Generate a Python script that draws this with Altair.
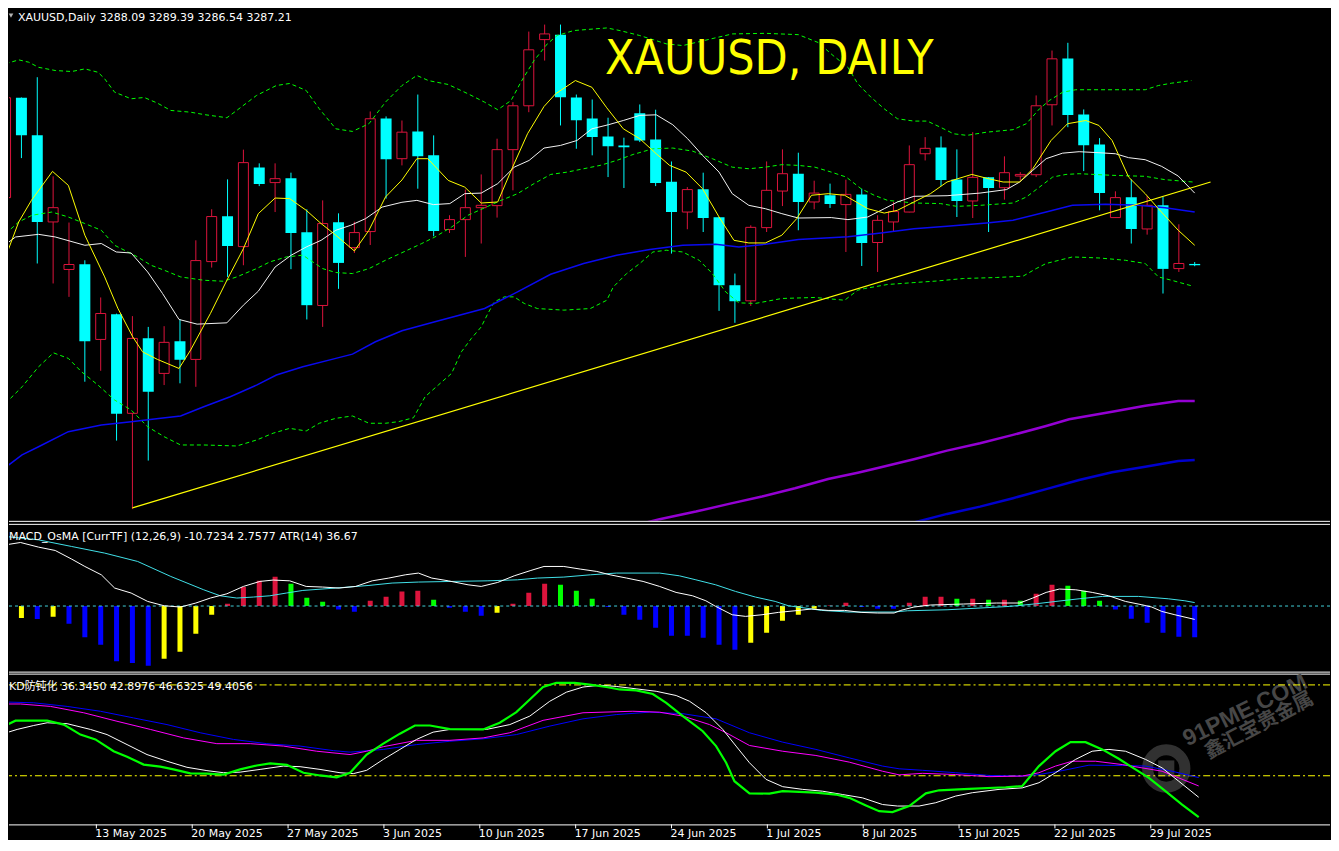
import altair as alt
import pandas as pd

# ---------------- data ----------------
TICK_IDX = [0, 6, 12, 18, 24, 30, 36, 42, 48, 54, 60, 66, 72]
TICK_LABELS = ["6 May 2025", "13 May 2025", "20 May 2025", "27 May 2025", "3 Jun 2025",
               "10 Jun 2025", "17 Jun 2025", "24 Jun 2025", "1 Jul 2025", "8 Jul 2025",
               "15 Jul 2025", "22 Jul 2025", "29 Jul 2025"]

OPEN = [3333.6, 3402.1, 3376.3, 3316.9, 3284.3, 3287.9, 3236.3, 3253.6, 3185.6, 3237.2,
        3213.0, 3235.1, 3222.6, 3289.7, 3320.8, 3300.0, 3354.3, 3343.9, 3346.8, 3309.8,
        3259.6, 3316.7, 3299.3, 3310.3, 3387.9, 3360.3, 3379.0, 3362.6, 3311.7, 3318.5,
        3326.7, 3328.1, 3366.5, 3396.6, 3442.0, 3445.4, 3402.3, 3387.9, 3375.6, 3369.4,
        3391.5, 3373.5, 3344.5, 3323.7, 3339.3, 3320.1, 3273.5, 3262.8, 3313.0, 3338.1,
        3350.0, 3330.6, 3335.2, 3328.8, 3335.8, 3302.8, 3316.9, 3323.7, 3363.7, 3368.0,
        3346.1, 3331.3, 3347.5, 3340.4, 3348.4, 3349.3, 3397.3, 3429.0, 3390.6, 3370.1,
        3319.9, 3333.8, 3312.1, 3328.3, 3284.9, 3288.09]
HIGH = [3404.3, 3402.3, 3416.2, 3348.2, 3316.5, 3290.6, 3265.1, 3254.0, 3252.3, 3244.9,
        3245.4, 3250.0, 3304.3, 3325.6, 3346.1, 3366.5, 3357.1, 3357.1, 3350.7, 3325.6,
        3331.7, 3322.8, 3317.1, 3392.7, 3389.3, 3386.5, 3404.3, 3376.3, 3321.5, 3339.1,
        3349.5, 3374.0, 3399.1, 3447.5, 3452.3, 3452.3, 3404.3, 3400.9, 3388.4, 3374.7,
        3397.5, 3393.9, 3358.4, 3340.8, 3350.7, 3320.3, 3281.5, 3314.6, 3358.4, 3366.7,
        3364.4, 3345.2, 3343.2, 3345.9, 3339.7, 3321.5, 3330.6, 3369.4, 3375.1, 3375.6,
        3366.7, 3378.5, 3347.7, 3361.9, 3351.1, 3403.7, 3434.5, 3439.8, 3394.1, 3374.4,
        3337.9, 3346.1, 3334.7, 3334.0, 3315.3, 3289.39]
LOW = [3332.4, 3360.7, 3288.4, 3274.7, 3265.5, 3207.3, 3214.8, 3166.9, 3119.9, 3153.2,
       3205.0, 3206.2, 3203.8, 3285.6, 3279.2, 3287.2, 3341.5, 3323.7, 3284.5, 3250.0,
       3244.9, 3271.0, 3295.6, 3301.1, 3332.9, 3355.7, 3339.7, 3307.1, 3309.3, 3292.9,
       3302.1, 3319.9, 3338.6, 3392.2, 3427.6, 3383.1, 3367.1, 3362.6, 3347.7, 3340.2,
       3371.7, 3341.5, 3295.2, 3311.9, 3310.0, 3255.9, 3247.7, 3259.3, 3310.0, 3327.8,
       3311.2, 3325.6, 3326.5, 3296.3, 3286.7, 3282.6, 3310.0, 3323.5, 3359.1, 3341.5,
       3320.3, 3319.6, 3310.0, 3332.2, 3345.4, 3347.7, 3383.1, 3381.9, 3351.8, 3324.9,
       3319.7, 3302.1, 3308.2, 3267.8, 3282.6, 3286.54]
CLOSE = [3402.1, 3376.3, 3316.9, 3326.7, 3287.7, 3235.1, 3254.1, 3185.3, 3237.0, 3200.4,
         3234.3, 3222.3, 3290.4, 3320.6, 3300.4, 3357.6, 3342.9, 3346.6, 3309.3, 3259.8,
         3315.8, 3288.8, 3309.6, 3387.7, 3360.0, 3378.5, 3361.9, 3310.7, 3318.5, 3326.7,
         3328.3, 3366.5, 3396.6, 3435.0, 3445.9, 3402.5, 3386.7, 3375.1, 3368.9, 3368.2,
         3372.8, 3343.6, 3323.7, 3339.1, 3319.6, 3273.5, 3262.5, 3313.2, 3338.6, 3350.0,
         3330.6, 3336.7, 3329.2, 3335.8, 3302.5, 3318.0, 3324.0, 3356.2, 3367.4, 3345.6,
         3331.3, 3347.5, 3340.2, 3350.7, 3349.5, 3396.6, 3428.8, 3390.2, 3369.6, 3336.7,
         3333.6, 3312.1, 3328.3, 3284.7, 3288.4, 3287.21]

# moving averages (bar index, price)
MA_FAST = [(0.0, 3292.9), (0.83, 3316.9), (1.63, 3331.7), (2.96, 3351.6), (3.96, 3342.0), (5.0, 3307.8),
           (6.25, 3279.2), (7.08, 3257.7), (8.02, 3238.1), (8.64, 3227.8), (9.58, 3222.6), (10.94, 3216.4),
           (11.67, 3229.0), (12.92, 3254.1), (13.96, 3276.9), (15.0, 3298.6), (15.94, 3322.6), (17.0, 3333.3),
           (17.92, 3332.9), (18.96, 3324.9), (19.9, 3315.8), (20.83, 3307.8), (22.0, 3297.0), (22.92, 3311.2),
           (23.96, 3334.0), (25.0, 3345.7), (25.94, 3360.3), (26.63, 3360.3), (27.92, 3345.4), (28.96, 3340.8),
           (30.0, 3329.9), (31.04, 3330.6), (31.98, 3354.5), (32.92, 3377.4), (33.96, 3396.1), (34.69, 3404.8),
           (35.94, 3413.9), (36.98, 3409.3), (37.92, 3395.2), (38.96, 3380.8), (40.0, 3374.0), (41.04, 3363.7),
           (41.88, 3355.7), (42.92, 3351.1), (43.96, 3339.7), (45.0, 3320.3), (45.94, 3304.3), (46.88, 3302.5),
           (47.92, 3302.5), (48.96, 3307.8), (49.9, 3319.2), (50.83, 3335.2), (51.88, 3336.3), (52.92, 3335.2),
           (54.38, 3326.0), (55.42, 3323.0), (56.25, 3324.9), (57.29, 3330.6), (58.33, 3336.3), (59.38, 3344.3),
           (60.94, 3349.5), (61.98, 3346.6), (62.92, 3344.3), (63.96, 3344.3), (64.79, 3353.4), (65.94, 3372.8),
           (66.98, 3384.3), (68.13, 3386.5), (68.96, 3383.1), (69.79, 3372.8), (70.83, 3347.7), (71.88, 3336.3),
           (72.71, 3326.0), (73.96, 3311.2), (75.0, 3300.9)]
MA_MID = [(0.0, 3301.4), (0.63, 3306.6), (2.08, 3308.4), (3.13, 3306.6), (5.0, 3300.9), (6.04, 3302.1),
          (6.98, 3296.3), (7.92, 3295.6), (8.96, 3282.6), (9.9, 3267.8), (10.94, 3250.0), (12.08, 3246.8),
          (13.96, 3247.7), (15.0, 3259.8), (15.94, 3269.4), (17.0, 3286.0), (18.02, 3294.1), (18.96, 3299.7),
          (19.9, 3304.3), (20.83, 3311.2), (21.77, 3314.6), (22.71, 3319.2), (23.75, 3327.1), (25.0, 3330.4),
          (25.94, 3331.7), (26.98, 3328.8), (28.02, 3329.5), (28.96, 3336.3), (30.0, 3336.7), (31.04, 3343.2),
          (32.08, 3354.5), (33.02, 3359.1), (33.96, 3367.6), (35.0, 3369.4), (36.04, 3372.8), (36.98, 3380.8),
          (38.02, 3383.6), (38.96, 3386.5), (40.0, 3390.0), (41.04, 3390.4), (42.08, 3383.6), (43.02, 3374.0),
          (43.96, 3362.6), (45.0, 3351.1), (45.83, 3336.3), (46.88, 3328.3), (47.92, 3326.0), (48.96, 3322.6),
          (50.0, 3319.6), (52.08, 3319.9), (53.13, 3318.5), (54.38, 3320.3), (55.42, 3326.0), (56.25, 3330.6),
          (57.29, 3334.5), (59.38, 3334.9), (61.46, 3336.7), (63.13, 3339.1), (63.96, 3344.3), (64.79, 3352.3),
          (65.63, 3360.3), (66.67, 3364.1), (67.71, 3365.1), (68.96, 3364.4), (70.0, 3363.7), (70.83, 3361.0),
          (71.88, 3359.6), (72.92, 3355.0), (73.96, 3348.4), (75.0, 3336.7)]
MA_SLOW = [(0.0, 3148.6), (1.04, 3157.1), (2.08, 3162.7), (3.96, 3173.0), (6.04, 3177.6), (7.92, 3179.9),
           (9.79, 3182.2), (11.04, 3183.8), (12.5, 3190.1), (14.17, 3197.0), (15.83, 3205.0), (17.08, 3211.9),
           (18.75, 3217.5), (20.83, 3223.3), (21.88, 3226.2), (23.33, 3234.7), (25.0, 3242.3), (27.08, 3248.4),
           (30.21, 3257.5), (32.29, 3268.9), (34.38, 3281.0), (36.46, 3288.4), (38.54, 3294.1), (40.63, 3298.0),
           (42.71, 3300.9), (44.79, 3301.6), (46.25, 3299.7), (47.92, 3301.6), (50.0, 3304.8), (53.13, 3306.7),
           (55.21, 3309.3), (57.29, 3312.3), (59.38, 3313.9), (61.88, 3316.2), (63.54, 3318.0), (65.63, 3323.7),
           (67.29, 3328.3), (69.38, 3329.0), (71.46, 3328.3), (73.13, 3326.7), (75.0, 3323.7)]
MA_LONG = [(38.5, 3105.5), (41.25, 3113.0), (43.54, 3118.2), (45.63, 3123.5), (47.71, 3128.5), (49.79, 3134.2),
           (51.88, 3140.6), (53.75, 3144.9), (55.21, 3148.6), (57.29, 3154.1), (59.38, 3160.0), (61.46, 3165.1),
           (63.54, 3170.8), (65.63, 3176.9), (67.08, 3181.5), (69.79, 3186.7), (71.88, 3190.8), (73.96, 3194.0),
           (75.0, 3194.0)]
MA_LONGEST = [(55.5, 3105.7), (57.92, 3112.5), (59.38, 3116.6), (61.46, 3121.6), (63.54, 3127.4), (65.63, 3133.6),
              (67.71, 3139.9), (69.79, 3145.2), (71.88, 3149.0), (73.96, 3152.9), (75.0, 3153.6)]

BAND_UP = [(0.0, 3425.4), (0.83, 3428.1), (1.46, 3426.5), (2.08, 3423.0), (3.13, 3420.8), (4.17, 3420.1),
           (5.0, 3421.9), (5.83, 3419.6), (6.25, 3415.1), (6.88, 3405.9), (7.92, 3401.4), (8.75, 3402.3),
           (9.58, 3398.4), (10.42, 3393.4), (11.67, 3392.2), (12.5, 3390.6), (13.96, 3388.4), (14.58, 3393.4),
           (15.83, 3403.7), (17.08, 3410.5), (17.92, 3411.9), (18.96, 3407.1), (19.79, 3394.5), (20.83, 3380.8),
           (21.88, 3379.0), (22.92, 3384.3), (23.96, 3399.1), (25.0, 3410.5), (25.94, 3417.4), (26.67, 3413.9),
           (27.92, 3411.2), (29.17, 3404.8), (30.21, 3399.1), (31.04, 3393.9), (31.88, 3400.2), (32.5, 3412.8),
           (33.33, 3427.6), (34.17, 3439.1), (34.79, 3444.8), (35.83, 3448.2), (37.92, 3450.0), (38.75, 3448.2),
           (40.0, 3444.8), (41.67, 3439.1), (42.71, 3437.9), (45.83, 3445.9), (47.92, 3446.3), (50.0, 3445.4),
           (51.25, 3440.0), (52.19, 3431.1), (53.13, 3423.0), (53.75, 3411.7), (54.58, 3402.5), (55.42, 3394.5),
           (56.25, 3387.7), (57.29, 3386.1), (58.13, 3386.1), (58.96, 3381.9), (59.79, 3377.4), (60.63, 3376.3),
           (61.88, 3378.5), (63.54, 3380.2), (64.38, 3384.3), (65.21, 3394.5), (65.83, 3400.2), (66.67, 3405.9),
           (67.5, 3407.6), (71.88, 3407.6), (72.71, 3410.5), (73.54, 3412.1), (74.79, 3413.9)]
BAND_MID = [(0.0, 3308.9), (0.83, 3316.9), (1.67, 3321.5), (2.92, 3323.7), (3.96, 3320.3), (5.0, 3315.8),
            (6.04, 3311.2), (6.88, 3300.9), (7.71, 3296.3), (8.33, 3292.9), (9.17, 3287.2), (10.0, 3283.8),
            (11.04, 3279.2), (12.5, 3276.9), (13.75, 3276.2), (14.58, 3279.2), (15.83, 3284.9), (16.67, 3289.5),
            (17.71, 3292.9), (18.75, 3294.1), (20.0, 3284.9), (20.83, 3282.2), (21.88, 3281.5), (22.92, 3284.9),
            (23.96, 3290.6), (25.0, 3295.8), (26.25, 3302.1), (27.08, 3306.6), (28.13, 3313.4), (29.17, 3321.5),
            (30.42, 3327.6), (31.25, 3331.7), (32.29, 3336.3), (33.33, 3343.2), (34.38, 3349.5), (35.42, 3351.1),
            (36.46, 3353.4), (37.5, 3355.7), (38.54, 3359.1), (39.58, 3363.2), (40.83, 3367.1), (42.08, 3367.6),
            (43.33, 3365.5), (44.58, 3360.3), (45.83, 3354.5), (46.88, 3353.4), (47.92, 3354.5), (48.96, 3356.2),
            (50.0, 3355.7), (51.04, 3354.5), (52.08, 3351.1), (53.02, 3347.7), (53.96, 3339.7), (54.79, 3335.2),
            (55.63, 3331.7), (57.29, 3329.9), (58.96, 3329.5), (60.0, 3327.6), (61.46, 3328.3), (63.54, 3329.9),
            (64.38, 3334.0), (65.21, 3340.8), (66.04, 3347.7), (66.88, 3349.5), (67.71, 3350.0), (69.79, 3348.9),
            (71.88, 3348.2), (73.13, 3345.9), (74.9, 3344.3)]
BAND_LOW = [(0.0, 3192.5), (1.04, 3203.8), (2.08, 3217.5), (3.02, 3227.1), (3.96, 3223.3), (4.79, 3214.1),
            (5.83, 3205.0), (6.88, 3194.7), (7.92, 3187.9), (8.96, 3176.4), (10.0, 3169.6), (11.04, 3163.9),
            (12.5, 3163.9), (14.58, 3163.2), (15.83, 3167.3), (16.88, 3172.0), (17.92, 3175.3), (18.96, 3173.5),
            (19.79, 3178.8), (20.83, 3182.2), (21.88, 3183.8), (22.92, 3178.8), (23.96, 3178.8), (24.79, 3179.9),
            (25.73, 3182.6), (26.46, 3197.0), (27.29, 3205.0), (28.13, 3213.0), (28.75, 3227.8), (29.38, 3237.0),
            (30.0, 3244.9), (30.42, 3254.1), (30.83, 3262.1), (31.46, 3265.5), (32.08, 3265.5), (32.71, 3261.0),
            (33.54, 3257.5), (35.21, 3256.4), (36.88, 3257.5), (37.92, 3263.2), (38.33, 3272.3), (39.17, 3281.5),
            (40.0, 3288.4), (40.83, 3296.3), (41.67, 3297.5), (42.71, 3296.3), (43.75, 3290.6), (44.58, 3281.5),
            (45.42, 3268.9), (46.25, 3261.4), (47.29, 3261.0), (48.96, 3264.4), (51.04, 3265.1), (52.92, 3263.2),
            (53.75, 3270.1), (54.17, 3271.2), (55.63, 3274.0), (57.29, 3275.3), (58.75, 3276.4), (60.42, 3278.1),
            (62.5, 3278.8), (64.17, 3279.7), (65.0, 3284.9), (65.63, 3288.4), (67.29, 3292.9), (68.96, 3292.2),
            (70.63, 3290.6), (71.88, 3288.4), (72.71, 3279.2), (73.54, 3276.9), (74.9, 3272.8)]

TRENDLINE = [(8.0, 3120.7), (76.0, 3344.3)]

# MACD_OsMA panel
OSMA = [-19.0, -9.6, -10.4, -8.6, -14.2, -25.1, -31.0, -44.3, -45.6, -47.8,
        -42.2, -36.6, -22.2, -7.0, 1.8, 15.2, 20.2, 23.4, 17.8, 6.6,
        3.4, -2.7, -4.6, 4.2, 7.4, 11.7, 12.2, 5.0, -1.4, -4.6,
        -7.8, -5.4, 1.8, 10.6, 17.8, 17.0, 12.2, 5.8, -0.8, -7.0,
        -11.0, -17.4, -23.8, -23.8, -25.4, -31.0, -35.0, -29.4, -21.4, -11.8,
        -7.0, -2.2, 0.5, 2.6, -0.8, -2.2, -2.2, 2.6, 7.4, 7.4,
        5.8, 5.8, 5.0, 5.0, 4.2, 9.8, 17.0, 16.2, 12.2, 4.2,
        -2.7, -10.2, -13.4, -21.4, -24.6, -25.1]
OSMA_KIND = ["Y", "Y", "B", "Y", "B", "B", "B", "B", "B", "B",
             "Y", "Y", "Y", "Y", "R", "R", "R", "R", "G", "G",
             "G", "B", "B", "R", "R", "R", "R", "G", "B", "B",
             "B", "Y", "R", "R", "R", "G", "G", "G", "B", "B",
             "B", "B", "B", "B", "B", "B", "B", "Y", "Y", "Y",
             "Y", "Y", "R", "R", "B", "B", "B", "R", "R", "R",
             "G", "R", "G", "R", "G", "R", "R", "G", "G", "G",
             "B", "B", "B", "B", "B", "B"]
MACD_LINE = [(0.0, 49.0), (0.94, 50.9), (2.08, 47.2), (3.13, 44.5), (4.17, 37.6), (5.0, 31.7), (6.04, 25.0),
             (6.88, 14.4), (7.92, 10.4), (8.96, 3.7), (10.0, 0.2), (11.04, -0.8), (12.0, 2.4), (12.92, 6.4),
             (13.96, 9.8), (15.0, 15.7), (16.04, 19.7), (16.88, 20.8), (17.92, 20.2), (18.96, 15.7), (20.0, 15.2),
             (21.04, 14.4), (22.08, 15.7), (23.13, 20.2), (24.17, 22.4), (25.21, 25.0), (26.04, 26.4), (26.88, 22.4),
             (27.92, 20.2), (29.17, 17.0), (30.0, 15.7), (31.04, 18.9), (32.08, 24.2), (33.13, 28.5), (33.96, 31.7),
             (35.21, 31.7), (36.25, 29.6), (37.29, 27.7), (38.13, 25.0), (39.17, 22.4), (40.21, 19.7), (41.25, 15.7),
             (42.29, 10.9), (43.33, 8.2), (44.17, 4.2), (44.79, -0.3), (45.83, -7.0), (46.67, -8.3), (47.71, -7.0),
             (48.75, -5.1), (49.79, -3.8), (50.83, -2.4), (51.88, -3.5), (52.92, -3.5), (53.96, -5.1), (55.0, -5.6),
             (56.04, -5.6), (56.46, -3.5), (57.29, -0.8), (58.33, 0.8), (60.42, 1.6), (62.5, 2.4), (63.96, 2.4),
             (64.79, 6.4), (65.63, 10.9), (66.46, 13.6), (67.5, 13.0), (68.54, 10.9), (69.58, 8.2), (70.63, 3.7),
             (71.67, 1.0), (72.29, -0.8), (72.92, -4.3), (73.75, -7.0), (75.0, -10.7234)]
SIGNAL_LINE = [(0.0, 55.7), (2.08, 53.0), (4.17, 47.7), (6.25, 42.4), (8.33, 35.7), (10.42, 23.7), (12.5, 13.0),
               (13.54, 8.2), (14.58, 6.4), (15.63, 7.2), (16.67, 8.2), (17.71, 10.4), (18.75, 12.5), (20.83, 14.4),
               (22.92, 16.5), (24.38, 18.4), (26.04, 19.2), (28.13, 19.7), (30.42, 20.2), (32.29, 21.0),
               (33.54, 22.4), (35.21, 23.2), (36.88, 25.0), (38.54, 26.4), (41.25, 26.4), (42.5, 24.2),
               (43.54, 21.0), (44.79, 17.0), (46.04, 11.7), (47.29, 7.2), (48.54, 3.7), (49.38, 0.2),
               (50.42, -1.6), (51.46, -3.5), (53.13, -4.8), (56.04, -4.8), (56.88, -3.8), (59.38, -3.0),
               (61.46, -1.6), (63.33, -0.3), (65.0, 1.8), (66.25, 3.7), (67.71, 5.8), (69.17, 7.7), (71.46, 7.7),
               (73.33, 5.8), (74.38, 4.2), (75.0, 2.7577)]

# KD panel
KD_GREEN = [(0.0, 65.8), (0.94, 68.2), (2.92, 68.2), (3.96, 66.9), (5.0, 63.6), (5.94, 62.0), (7.08, 58.1),
            (7.92, 56.3), (8.96, 53.7), (10.0, 53.0), (10.83, 52.1), (11.88, 50.8), (12.92, 50.7), (13.96, 50.4),
            (15.0, 52.1), (16.04, 53.4), (16.88, 54.1), (17.92, 53.6), (18.96, 51.0), (20.0, 50.1), (21.04, 49.5),
            (21.88, 51.0), (22.92, 57.0), (23.96, 60.6), (25.0, 63.9), (25.94, 66.6), (26.88, 66.6), (28.13, 65.4),
            (30.21, 65.3), (31.25, 67.5), (32.29, 71.0), (33.13, 75.2), (33.96, 79.3), (34.79, 80.7), (35.94, 80.7),
            (36.88, 80.1), (37.92, 79.3), (38.75, 78.5), (39.79, 78.2), (40.83, 77.0), (41.67, 74.1), (42.71, 69.7),
            (43.96, 64.7), (44.79, 59.8), (45.42, 54.3), (45.94, 48.2), (46.88, 44.2), (48.13, 44.1), (48.96, 44.9),
            (50.0, 44.7), (51.04, 44.4), (52.29, 43.8), (53.13, 42.7), (54.17, 40.2), (55.0, 38.3), (55.83, 38.0),
            (56.88, 40.0), (57.92, 44.2), (58.75, 45.2), (60.63, 45.7), (62.92, 46.2), (63.96, 46.6), (65.0, 53.2),
            (66.04, 58.1), (66.98, 61.1), (67.92, 61.1), (68.96, 58.7), (70.0, 55.6), (71.04, 52.1), (71.88, 49.3),
            (72.92, 44.9), (73.96, 40.5), (75.0, 36.345)]
KD_WHITE = [(0.0, 63.6), (1.04, 65.3), (2.08, 66.6), (2.92, 67.5), (4.17, 67.2), (5.63, 65.3), (6.67, 63.6),
            (7.92, 60.3), (9.17, 57.0), (10.42, 54.8), (11.67, 52.8), (12.92, 51.7), (13.96, 51.0), (15.0, 51.2),
            (16.25, 52.1), (17.71, 53.2), (18.75, 53.0), (20.0, 52.1), (21.25, 51.0), (22.08, 50.7), (22.92, 51.8),
            (23.96, 55.4), (25.0, 58.7), (26.04, 62.0), (27.08, 64.4), (28.13, 65.3), (30.42, 65.3), (31.88, 66.9),
            (33.13, 69.7), (34.38, 74.6), (35.42, 77.6), (36.46, 79.3), (37.5, 79.9), (38.54, 79.5), (39.79, 78.7),
            (41.04, 77.9), (42.29, 76.5), (43.13, 74.6), (44.17, 70.8), (45.21, 65.3), (46.04, 59.8), (46.88, 54.3),
            (47.92, 48.8), (48.96, 46.4), (50.21, 45.5), (51.46, 44.9), (52.71, 43.8), (53.96, 42.7), (55.21, 40.5),
            (56.15, 40.0), (57.5, 40.0), (58.54, 41.1), (59.79, 43.3), (60.83, 44.4), (62.5, 45.5), (63.96, 46.0),
            (65.0, 47.7), (66.04, 51.0), (67.29, 55.4), (68.33, 58.1), (69.38, 58.7), (70.42, 58.1), (71.67, 55.4),
            (72.71, 52.6), (73.75, 48.2), (75.0, 42.8976)]
KD_MAGENTA = [(0.0, 73.7), (1.25, 73.7), (3.13, 72.9), (5.21, 70.8), (7.29, 68.0), (9.38, 65.3), (11.46, 62.5),
              (13.54, 60.6), (15.63, 60.6), (17.71, 59.8), (19.79, 58.1), (21.88, 57.0), (22.92, 58.1),
              (23.96, 59.6), (26.04, 61.7), (28.13, 61.7), (30.21, 62.5), (31.88, 64.2), (33.96, 68.3),
              (36.46, 70.8), (39.58, 71.3), (41.25, 71.0), (42.71, 69.7), (44.38, 66.9), (45.42, 64.2),
              (46.88, 60.0), (48.96, 58.1), (51.04, 56.7), (53.13, 54.5), (55.21, 51.5), (56.25, 50.3),
              (57.71, 50.8), (59.79, 50.4), (61.88, 49.7), (63.96, 49.9), (65.0, 51.0), (66.04, 53.2),
              (67.08, 54.8), (68.54, 54.8), (70.21, 53.7), (71.46, 52.6), (72.71, 51.5), (73.75, 49.3),
              (75.0, 46.6325)]
KD_BLUE = [(0.0, 74.4), (2.08, 74.1), (4.17, 72.9), (6.25, 71.3), (8.33, 69.1), (10.42, 66.9), (12.5, 64.2),
           (14.58, 62.0), (16.67, 60.6), (18.75, 59.8), (20.83, 58.3), (21.88, 57.8), (23.96, 58.7), (26.04, 60.3),
           (28.13, 61.4), (30.21, 62.2), (32.29, 63.6), (34.38, 66.4), (36.46, 68.8), (38.54, 70.2), (40.63, 71.0),
           (42.71, 70.5), (44.79, 68.8), (46.88, 64.2), (48.96, 61.1), (51.04, 58.7), (53.13, 55.9), (55.21, 53.2),
           (56.25, 52.3), (57.71, 51.8), (59.79, 51.0), (61.88, 50.1), (63.96, 49.9), (65.0, 50.4), (66.46, 51.7),
           (68.13, 53.5), (70.21, 53.4), (71.67, 53.2), (73.33, 51.5), (75.0, 49.4056)]
KD_LEVELS = [80, 50]

HEADER_NAME = "XAUUSD,Daily"
HEADER_OHLC = "3288.09 3289.39 3286.54 3287.21"
BIG_TITLE = "XAUUSD, DAILY"
MACD_TITLE = "MACD_OsMA [CurrTF] (12,26,9) -10.7234 2.7577  ATR(14) 36.67"
KD_TITLE = "KD防钝化 36.3450 42.8976 46.6325 49.4056"

# ---------------- chart ----------------
W = 1323
H_MAIN, H_MACD, H_KD = 513, 154, 150
X_DOMAIN = [0.53125, 83.21875]
FONT = "DejaVu Sans, Noto Sans CJK SC, sans-serif"

xs = alt.Scale(domain=X_DOMAIN, nice=False, zero=False)
ys_main = alt.Scale(domain=[3111.84, 3463.25], nice=False, zero=False)
ys_macd = alt.Scale(domain=[-54.96, 68.24], nice=False, zero=False)
ys_kd = alt.Scale(domain=[33.94, 83.40], nice=False, zero=False)

one = pd.DataFrame({"a": [0]})


def line(pairs, color, width, yscale, dash=None):
    df = pd.DataFrame(pairs, columns=["t", "v"])
    kw = dict(color=color, strokeWidth=width, clip=True)
    if dash is not None:
        kw["strokeDash"] = dash
    return alt.Chart(df).mark_line(**kw).encode(
        x=alt.X("t:Q", scale=xs, axis=None),
        y=alt.Y("v:Q", scale=yscale, axis=None),
    )


def label(text, x, y, color="#FFFFFF", size=11, **extra):
    kw = dict(text=text, color=color, fontSize=size, font=FONT, align="left", baseline="alphabetic")
    kw.update(extra)
    return alt.Chart(one).mark_text(**kw).encode(x=alt.value(x), y=alt.value(y))


# candles
n = min(len(OPEN), len(HIGH), len(LOW), len(CLOSE))
cdf = pd.DataFrame({
    "t": list(range(n)), "o": OPEN[:n], "h": HIGH[:n], "l": LOW[:n], "c": CLOSE[:n],
})
cdf["dir"] = ["up" if c >= o else "down" for o, c in zip(cdf["o"], cdf["c"])]
X_T = alt.X("t:Q", scale=xs, axis=None)

wicks = alt.Chart(cdf).mark_rule(strokeWidth=1, clip=True).encode(
    x=X_T, y=alt.Y("l:Q", scale=ys_main, axis=None), y2="h:Q",
    color=alt.Color("dir:N", scale=alt.Scale(domain=["up", "down"], range=["#DC143C", "#00FFFF"]), legend=None),
)
bodies_up = alt.Chart(cdf).transform_filter("datum.dir == 'up'").mark_bar(
    size=10, fill="#000000", stroke="#DC143C", strokeWidth=1, clip=True
).encode(x=X_T, y=alt.Y("o:Q", scale=ys_main, axis=None), y2="c:Q")
bodies_dn = alt.Chart(cdf).transform_filter("datum.dir == 'down'").mark_bar(
    size=11, color="#00FFFF", clip=True
).encode(x=X_T, y=alt.Y("o:Q", scale=ys_main, axis=None), y2="c:Q")

main = alt.layer(
    wicks, bodies_up, bodies_dn,
    line(BAND_UP, "#00FF00", 1, ys_main, [4, 3]),
    line(BAND_MID, "#00FF00", 1, ys_main, [4, 3]),
    line(BAND_LOW, "#00FF00", 1, ys_main, [4, 3]),
    line(MA_LONGEST, "#0000CD", 2.5, ys_main),
    line(MA_LONG, "#9400D3", 2.5, ys_main),
    line(MA_SLOW, "#0A0AF0", 1.5, ys_main),
    line(MA_MID, "#F2F2F2", 1, ys_main),
    line(MA_FAST, "#FFFF00", 1, ys_main),
    line(TRENDLINE, "#FFFF00", 1.2, ys_main),
    alt.Chart(one).mark_point(shape="triangle-down", filled=True, size=22, color="#FFFFFF").encode(
        x=alt.value(2), y=alt.value(7)),
    label(HEADER_NAME, 9, 12),
    label(HEADER_OHLC, 91, 12),
    label(BIG_TITLE, 597, 65, color="#FFFF00", size=48,
          font="DejaVu Sans Condensed, Liberation Sans Narrow, sans-serif"),
).properties(width=W, height=H_MAIN)

# MACD panel
hdf = pd.DataFrame({"t": list(range(len(OSMA))), "v": OSMA, "z": [0.0] * len(OSMA),
                    "k": OSMA_KIND[:len(OSMA)]})
hist = alt.Chart(hdf).mark_bar(size=5, clip=True).encode(
    x=X_T, y=alt.Y("v:Q", scale=ys_macd, axis=None), y2="z:Q",
    color=alt.Color("k:N", scale=alt.Scale(domain=["Y", "B", "R", "G"],
                                           range=["#FFFF00", "#0000FF", "#DC143C", "#00FF00"]), legend=None),
)
zero_line = alt.Chart(pd.DataFrame({"v": [0.0]})).mark_rule(color="#40D0D8", strokeDash=[3, 3], strokeWidth=1).encode(
    y=alt.Y("v:Q", scale=ys_macd, axis=None))


def hrule(y, color="#FFFFFF"):
    return alt.Chart(one).mark_rule(color=color, strokeWidth=1).encode(y=alt.value(y))


macd = alt.layer(
    hist, zero_line,
    line(SIGNAL_LINE, "#40E0E8", 1, ys_macd),
    line(MACD_LINE, "#FFFFFF", 1, ys_macd),
    hrule(0.5), hrule(3.5), hrule(151.5), hrule(153.5),
    label(MACD_TITLE, 0, 19),
).properties(width=W, height=H_MACD)

# KD panel
levels = alt.Chart(pd.DataFrame({"v": KD_LEVELS})).mark_rule(
    color="#FFFF00", strokeDash=[7, 3, 2, 3], strokeWidth=1).encode(y=alt.Y("v:Q", scale=ys_kd, axis=None))

ticks_df = pd.DataFrame({"t": TICK_IDX, "lab": TICK_LABELS})
ticks_df = ticks_df[ticks_df["t"] >= X_DOMAIN[0]]
ticks = alt.Chart(ticks_df).mark_rule(color="#FFFFFF", strokeWidth=1).encode(
    x=X_T, y=alt.value(150), y2=alt.value(154))
tick_labels = alt.Chart(ticks_df).mark_text(
    color="#FFFFFF", fontSize=11, font=FONT, align="left", baseline="alphabetic", dx=-1
).encode(x=X_T, y=alt.value(163), text="lab:N")

wm_color = "#474747"
watermark = [
    alt.Chart(one).mark_point(shape="circle", filled=False, size=1400, strokeWidth=11, color=wm_color).encode(
        x=alt.value(1159), y=alt.value(94)),
    alt.Chart(one).mark_point(shape="square", filled=True, size=260, color=wm_color).encode(
        x=alt.value(1159), y=alt.value(94)),
    alt.Chart(one).mark_text(text="91PME.COM", angle=334, fontSize=23, fontWeight="bold", color=wm_color,
                             font="Liberation Sans, sans-serif", align="center", baseline="middle").encode(
        x=alt.value(1238), y=alt.value(36)),
    alt.Chart(one).mark_text(text="鑫汇宝贵金属", angle=332, fontSize=20, fontWeight="bold", color=wm_color,
                             font="Noto Sans CJK SC, sans-serif", align="center", baseline="middle").encode(
        x=alt.value(1252), y=alt.value(51)),
]

kd = alt.layer(
    *watermark,
    levels,
    line(KD_BLUE, "#0000FF", 1, ys_kd),
    line(KD_MAGENTA, "#FF00FF", 1, ys_kd),
    line(KD_WHITE, "#FFFFFF", 1, ys_kd),
    line(KD_GREEN, "#00FF00", 2.2, ys_kd),
    label(KD_TITLE, 0, 15),
    hrule(150.5),
    ticks, tick_labels,
).properties(width=W, height=H_KD)

chart = alt.vconcat(main, macd, kd, spacing=0, bounds="flush").resolve_scale(
    color="independent"
).properties(
    padding=0, background="#000000"
).configure_view(strokeWidth=0)

chart.save("out.html", embed_options={"renderer": "svg", "actions": False})
